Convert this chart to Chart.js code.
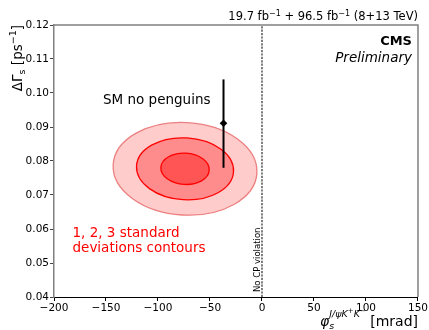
<!DOCTYPE html>
<html>
<head>
<meta charset="utf-8">
<script src="https://cdn.jsdelivr.net/npm/chart.js@4"></script>
<style>
  body { margin: 0; background: #fff; }
  canvas { display: block; }
</style>
</head>
<body>
<canvas id="chart" width="429" height="330"></canvas>
<script>
// Значения осей
const xTicks = [-200, -150, -100, -50, 0, 50, 100, 150];
const yTicks = [0.04, 0.05, 0.06, 0.07, 0.08, 0.09, 0.10, 0.11, 0.12];

// Предсказание SM без пингвинов
const smPhi = [-37];
const smDeltaGamma = [0.0911];
const smDeltaGammaLow = [0.078];
const smDeltaGammaHigh = [0.104];

// Контуры 1, 2, 3 sigma
const contourCenterPhi = [-74];
const contourCenterDG = [0.0777];
const contourHalfPhi = [23.3, 46.7, 69.2];
const contourHalfDG = [0.0046, 0.0091, 0.0136];

// Линия "No CP violation"
const noCpPhi = [0];

const FONT = '"DejaVu Sans"';
const contourFill = ['rgb(255,85,85)', 'rgb(255,140,140)', 'rgb(255,204,204)'];
const contourStroke = ['#ff0000', '#ff0000', 'rgb(236,128,128)'];
const contourTilt = 0.06;

function font(size, style) {
    return (style || '') + ' ' + size + 'px ' + FONT;
}

// Рисует строку из кусочков (индексы, степени)
function drawRuns(ctx, runs, x, y, align) {
    let total = 0;
    runs.forEach(r => {
        ctx.font = font(r.size, r.style);
        r.w = ctx.measureText(r.t).width;
        if (r.adv !== false) total += r.w;
    });
    let cx = align === 'right' ? x - total : x;
    runs.forEach(r => {
        ctx.font = font(r.size, r.style);
        ctx.fillText(r.t, cx, y + (r.dy || 0));
        if (r.adv !== false) cx += r.w;
    });
}

const minus = v => String(v).replace('-', '\u2212');

// Эллипсы под данными
const contourPlugin = {
    id: 'contours',
    beforeDatasetsDraw(chart) {
        const ctx = chart.ctx;
        const xs = chart.scales.x, ys = chart.scales.y;
        const cx = xs.getPixelForValue(contourCenterPhi[0]);
        const cy = ys.getPixelForValue(contourCenterDG[0]);
        ctx.save();
        for (let i = contourHalfPhi.length - 1; i >= 0; i--) {
            const rx = Math.abs(xs.getPixelForValue(contourCenterPhi[0] + contourHalfPhi[i]) - cx);
            const ry = Math.abs(ys.getPixelForValue(contourCenterDG[0] + contourHalfDG[i]) - cy);
            ctx.beginPath();
            ctx.ellipse(cx, cy, rx, ry, contourTilt, 0, Math.PI * 2);
            ctx.fillStyle = contourFill[i];
            ctx.fill();
            ctx.lineWidth = 1.3;
            ctx.strokeStyle = contourStroke[i];
            ctx.stroke();
        }
        ctx.restore();
    }
};

// Подписи, рамка, заголовки осей
const textPlugin = {
    id: 'texts',
    afterDraw(chart) {
        const ctx = chart.ctx;
        const a = chart.chartArea;
        ctx.save();
        // верхняя и правая рамка
        ctx.strokeStyle = '#808080';
        ctx.lineWidth = 1.5;
        ctx.beginPath();
        ctx.moveTo(a.left, a.top);
        ctx.lineTo(a.right, a.top);
        ctx.lineTo(a.right, a.bottom);
        ctx.stroke();

        ctx.fillStyle = '#000';
        ctx.textBaseline = 'alphabetic';
        ctx.textAlign = 'left';

        drawRuns(ctx, [
            { t: '19.7 fb', size: 11.5 },
            { t: '\u22121', size: 8, dy: -4.5 },
            { t: ' + 96.5 fb', size: 11.5 },
            { t: '\u22121', size: 8, dy: -4.5 },
            { t: ' (8+13 TeV)', size: 11.5 }
        ], a.right, 20, 'right');

        drawRuns(ctx, [{ t: 'CMS', size: 13, style: 'bold' }], a.right - 6, 45, 'right');
        drawRuns(ctx, [{ t: 'Preliminary', size: 13.5, style: 'italic' }], a.right - 6, 62, 'right');

        drawRuns(ctx, [{ t: 'SM no penguins', size: 13.5 }], 103, 103.5, 'left');

        ctx.fillStyle = '#ff0000';
        drawRuns(ctx, [{ t: '1, 2, 3 standard', size: 13.5 }], 72.5, 236.5, 'left');
        drawRuns(ctx, [{ t: 'deviations contours', size: 13.5 }], 72.5, 251.5, 'left');

        // ось X
        ctx.fillStyle = '#000';
        drawRuns(ctx, [
            { t: '\u03c6', size: 14, style: 'italic' },
            { t: 's', size: 9.5, style: 'italic', dy: 3, adv: false },
            { t: 'J/\u03c8K', size: 9.5, style: 'italic', dy: -9.5 },
            { t: '+', size: 7, dy: -13 },
            { t: 'K', size: 9.5, style: 'italic', dy: -9.5 },
            { t: '\u2212', size: 7, dy: -13 },
            { t: ' [mrad]', size: 14 }
        ], a.right, 326, 'right');

        // ось Y (повернутая)
        ctx.save();
        ctx.translate(21.5, a.top);
        ctx.rotate(-Math.PI / 2);
        drawRuns(ctx, [
            { t: '\u0394\u0393', size: 13.5 },
            { t: 's', size: 9.5, dy: 3 },
            { t: ' [ps', size: 13.5 },
            { t: '\u22121', size: 9.5, dy: -5.5 },
            { t: ']', size: 13.5 }
        ], 0, 0, 'right');
        ctx.restore();

        // подпись у пунктирной линии
        ctx.save();
        ctx.translate(xs(chart, noCpPhi[0]) - 1.5, a.bottom - 5);
        ctx.rotate(-Math.PI / 2);
        drawRuns(ctx, [{ t: 'No CP violation', size: 8.5 }], 0, 0, 'left');
        ctx.restore();

        ctx.restore();
    }
};

function xs(chart, v) {
    return chart.scales.x.getPixelForValue(v);
}

const ctx = document.getElementById('chart').getContext('2d');
new Chart(ctx, {
    type: 'scatter',
    data: {
        datasets: [
            {
                type: 'line',
                data: [
                    { x: noCpPhi[0], y: yTicks[0] },
                    { x: noCpPhi[0], y: yTicks[yTicks.length - 1] }
                ],
                borderColor: '#555',
                borderWidth: 1.5,
                borderDash: [2.2, 1.2],
                pointRadius: 0,
                fill: false
            },
            {
                type: 'line',
                data: [
                    { x: smPhi[0], y: smDeltaGammaLow[0] },
                    { x: smPhi[0], y: smDeltaGammaHigh[0] }
                ],
                borderColor: '#000',
                borderWidth: 2,
                pointRadius: 0,
                fill: false
            },
            {
                data: smPhi.map((p, i) => ({ x: p, y: smDeltaGamma[i] })),
                pointStyle: 'rectRot',
                pointRadius: 3.8,
                backgroundColor: '#000',
                borderColor: '#000',
                borderWidth: 0
            }
        ]
    },
    options: {
        responsive: false,
        animation: false,
        devicePixelRatio: 1,
        layout: { padding: { top: 25, right: 10, left: 0, bottom: 0 } },
        plugins: {
            legend: { display: false },
            tooltip: { enabled: false }
        },
        scales: {
            x: {
                type: 'linear',
                min: xTicks[0],
                max: xTicks[xTicks.length - 1],
                afterBuildTicks: s => { s.ticks = xTicks.map(v => ({ value: v })); },
                afterFit: s => { s.height = 33; },
                ticks: {
                    color: '#000',
                    font: { family: FONT, size: 10.5 },
                    padding: 1,
                    maxRotation: 0,
                    callback: v => minus(v)
                },
                grid: { drawOnChartArea: false, tickLength: 4, color: '#000' },
                border: { color: '#000', width: 1 }
            },
            y: {
                type: 'linear',
                min: yTicks[0],
                max: yTicks[yTicks.length - 1],
                afterBuildTicks: s => { s.ticks = yTicks.map(v => ({ value: v })); },
                afterFit: s => { s.width = 54; },
                ticks: {
                    color: '#000',
                    font: { family: FONT, size: 10.5 },
                    padding: 1,
                    callback: v => v.toFixed(2)
                },
                grid: { drawOnChartArea: false, tickLength: 4, color: '#444' },
                border: { color: '#808080', width: 1.5 }
            }
        }
    },
    plugins: [contourPlugin, textPlugin]
});
</script>
</body>
</html>
